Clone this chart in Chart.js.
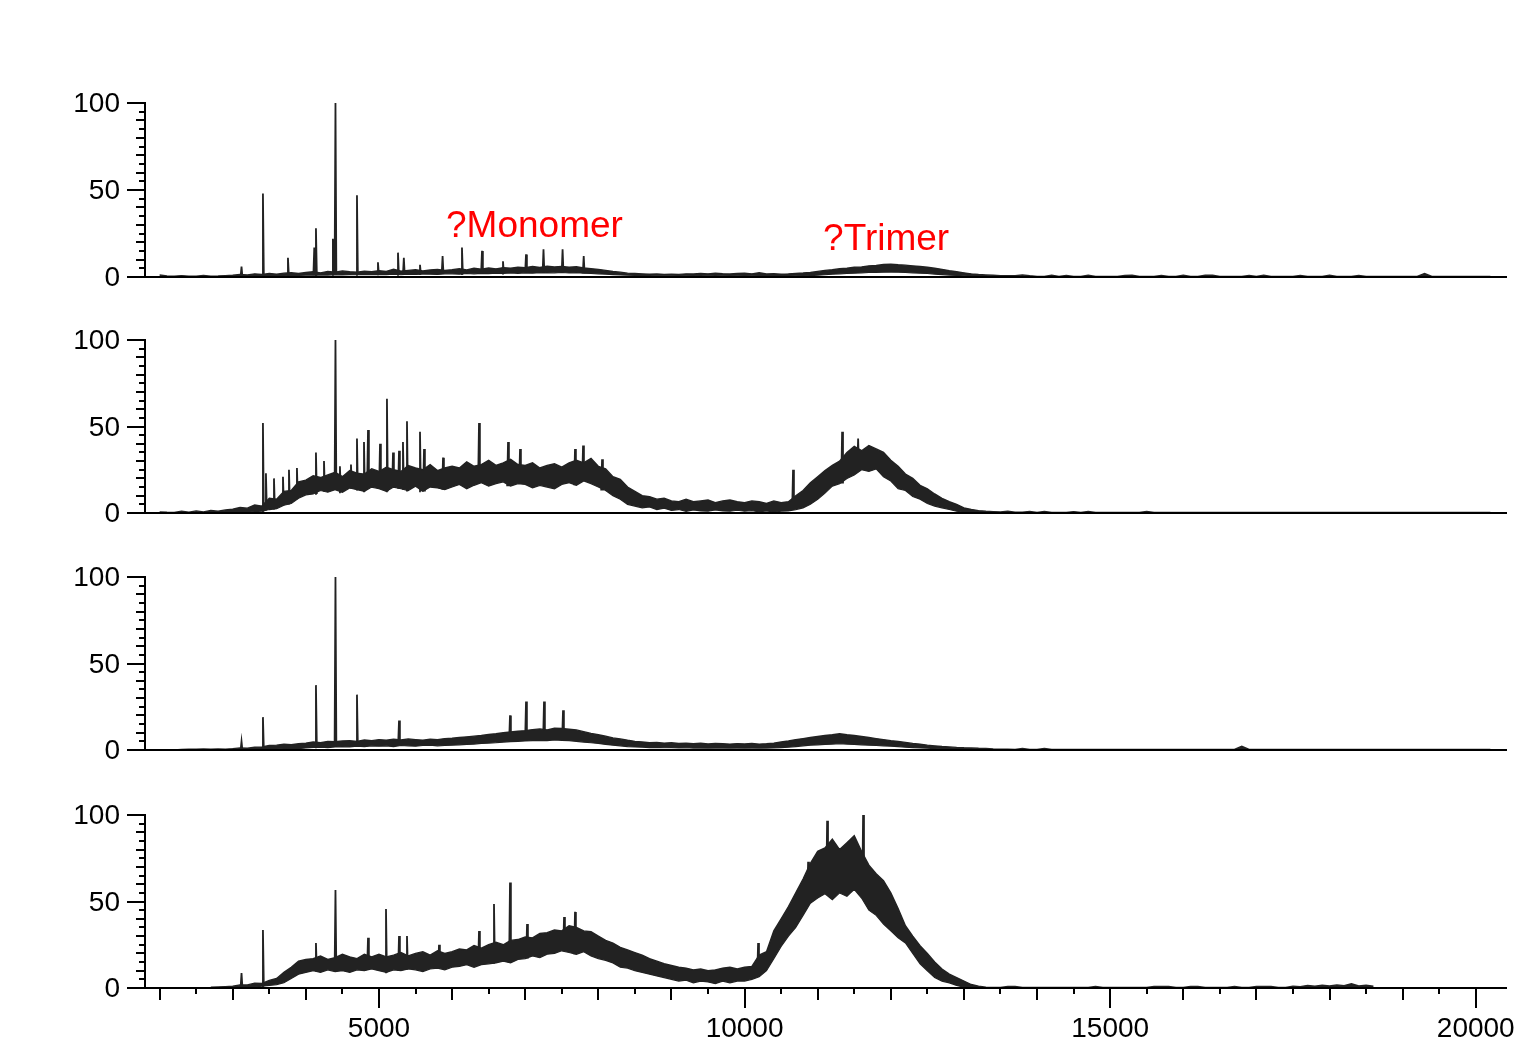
<!DOCTYPE html>
<html>
<head>
<meta charset="utf-8">
<script src="https://cdn.jsdelivr.net/npm/chart.js@4.4.1/dist/chart.umd.min.js"></script>
<style>
  html, body { margin: 0; padding: 0; background: #fff; }
  #wrap { width: 1520px; height: 1043px; }
</style>
</head>
<body>
<div id="wrap"><canvas id="spectra" width="1520" height="1043"></canvas></div>
<script>
// m/z sampling of the envelopes (Da)
const mzGrid = [
  2000, 2100, 2200, 2300, 2400, 2500, 2600, 2700, 2800, 2900,
  3000, 3100, 3200, 3300, 3400, 3500, 3600, 3700, 3800, 3900,
  4000, 4100, 4200, 4300, 4400, 4500, 4600, 4700, 4800, 4900,
  5000, 5100, 5200, 5300, 5400, 5500, 5600, 5700, 5800, 5900,
  6000, 6100, 6200, 6300, 6400, 6500, 6600, 6700, 6800, 6900,
  7000, 7100, 7200, 7300, 7400, 7500, 7600, 7700, 7800, 7900,
  8000, 8100, 8200, 8300, 8400, 8500, 8600, 8700, 8800, 8900,
  9000, 9100, 9200, 9300, 9400, 9500, 9600, 9700, 9800, 9900,
  10000, 10100, 10200, 10300, 10400, 10500, 10600, 10700, 10800, 10900,
  11000, 11100, 11200, 11300, 11400, 11500, 11600, 11700, 11800, 11900,
  12000, 12100, 12200, 12300, 12400, 12500, 12600, 12700, 12800, 12900,
  13000, 13100, 13200, 13300, 13400, 13500, 13600, 13700, 13800, 13900,
  14000, 14100, 14200, 14300, 14400, 14500, 14600, 14700, 14800, 14900,
  15000, 15100, 15200, 15300, 15400, 15500, 15600, 15700, 15800, 15900,
  16000, 16100, 16200, 16300, 16400, 16500, 16600, 16700, 16800, 16900,
  17000, 17100, 17200, 17300, 17400, 17500, 17600, 17700, 17800, 17900,
  18000, 18100, 18200, 18300, 18400, 18500, 18600, 18700, 18800, 18900,
  19000, 19100, 19200, 19300, 19400, 19500, 19600, 19700, 19800, 19900,
  20000, 20100, 20200
];

// panel 1 (top): noise band, upper and lower edge
const p1Upper = [
  1.2, 0.6, 0.4, 0.8, 0.5, 0.4, 0.9, 0.5, 0.6, 0.8,
  1.0, 1.5, 1.2, 1.8, 1.4, 2.0, 1.6, 2.2, 2.4, 2.0,
  2.6, 3.0, 2.4, 3.2, 2.8, 3.5, 3.0, 2.7, 3.4, 3.1,
  3.6, 3.2, 4.5, 3.4, 3.8, 4.2, 3.5, 4.0, 4.4, 3.7,
  4.2, 4.8, 4.0, 5.0, 4.5, 5.2, 4.7, 5.4, 5.0, 5.6,
  5.4, 6.0, 5.5, 6.2, 5.8, 6.0, 5.6, 5.9, 5.2, 4.8,
  4.4, 3.8, 3.2, 2.8, 2.2, 2.0, 1.8, 1.6, 1.7, 1.5,
  1.6, 1.5, 1.8, 1.7, 2.0, 1.8, 2.2, 1.9, 1.7, 2.0,
  2.2, 1.8, 2.4, 1.7, 1.9, 1.6, 1.8, 2.1, 2.3, 2.6,
  3.2, 3.8, 4.2, 4.8, 5.0, 5.6, 5.8, 6.4, 6.6, 7.2,
  7.4, 7.0, 6.8, 6.4, 6.0, 5.6, 5.0, 4.4, 3.6, 3.0,
  2.4, 1.8, 1.4, 1.2, 1.0, 0.8, 0.8, 0.7, 1.2, 0.7,
  0.3, 0.3, 1.0, 0.3, 0.9, 0.3, 0.3, 1.0, 0.3, 0.3,
  0.3, 0.3, 0.9, 1.0, 0.3, 0.3, 0.3, 0.9, 0.3, 0.3,
  1.0, 0.3, 0.3, 1.0, 1.0, 0.3, 0.3, 0.3, 0.3, 0.9,
  0.3, 1.0, 0.3, 0.3, 0.3, 0.3, 0.9, 0.3, 0.3, 0.3,
  1.0, 0.3, 0.3, 0.3, 0.9, 0.3, 0.3, 0.3, 0.3, 0.3,
  0.3, 0.3, 0.3, 2.0, 0.3, 0.3, 0.3, 0.3, 0.3, 0.3,
  0.3, 0.3, 0.3
];
const p1Lower = [
  0, 0, 0, 0, 0, 0, 0, 0, 0, 0,
  0.2, 0.2, 0.3, 0.3, 0.4, 0.5, 0.6, 0.6, 0.8, 0.9,
  1.0, 1.0, 1.2, 1.1, 1.3, 1.2, 1.4, 1.3, 1.5, 1.4,
  1.5, 1.4, 1.6, 1.3, 1.6, 1.5, 1.7, 1.6, 1.5, 1.8,
  1.8, 1.6, 2.0, 1.8, 2.1, 1.9, 2.2, 2.0, 2.3, 2.1,
  2.4, 2.2, 2.5, 2.3, 2.4, 2.6, 2.3, 2.5, 2.2, 2.0,
  1.8, 1.6, 1.4, 1.2, 1.0, 0.9, 0.8, 0.8, 0.7, 0.7,
  0.7, 0.6, 0.7, 0.6, 0.8, 0.7, 0.8, 0.7, 0.6, 0.7,
  0.6, 0.7, 0.6, 0.5, 0.6, 0.5, 0.6, 0.7, 0.6, 0.8,
  1.0, 1.3, 1.6, 1.8, 2.0, 2.2, 2.4, 2.6, 2.7, 2.8,
  2.9, 2.8, 2.6, 2.4, 2.2, 2.0, 1.7, 1.4, 1.1, 0.9,
  0.7, 0.5, 0.4, 0.3, 0.3, 0.2, 0.2, 0.2, 0.2, 0.2,
  0, 0, 0, 0, 0, 0, 0, 0, 0, 0,
  0, 0, 0, 0, 0, 0, 0, 0, 0, 0,
  0, 0, 0, 0, 0, 0, 0, 0, 0, 0,
  0, 0, 0, 0, 0, 0, 0, 0, 0, 0,
  0, 0, 0, 0, 0, 0, 0, 0, 0, 0,
  0, 0, 0, 0, 0, 0, 0, 0, 0, 0,
  0, 0, 0
];
const p1SpikeMz  = [3120, 3413, 3755, 4115, 4138, 4370, 4405, 4699, 4986, 5260, 5340, 5561, 5870, 6135, 6409, 6696, 7011, 7250, 7511, 7800];
const p1SpikeTop = [6, 48, 11, 17, 28, 22, 100, 47, 8.5, 14, 11, 7, 12, 17, 15, 9, 13, 16, 16, 12];

// panel 2
const p2Upper = [
  0.6, 0.4, 0.3, 1.0, 0.5, 1.2, 0.6, 1.4, 1.0, 1.8,
  2.2, 3.2, 2.8, 4.6, 4.0, 8.5, 8.0, 12.5, 13.0, 18.0,
  19.0, 21.5, 20.5, 22.0, 23.5, 21.0, 24.5, 23.0, 22.5, 25.5,
  24.0, 26.5, 25.0, 24.0, 27.5, 26.0, 25.0, 28.0, 24.5, 26.0,
  27.0, 26.0, 29.5, 27.0, 28.0, 30.5, 27.5, 29.0, 31.0, 28.0,
  27.5, 29.0, 26.0, 27.5, 28.5, 26.5, 29.0, 30.5, 29.0, 31.5,
  27.0, 25.5, 21.0, 19.5, 15.0, 12.5, 10.0, 9.5, 8.0, 8.5,
  7.0, 6.5, 8.0, 6.5, 7.0, 7.5, 6.0, 7.0, 7.5, 6.5,
  6.0, 7.0, 6.5, 5.5, 7.0, 6.0, 6.5, 10.0, 13.0, 17.5,
  21.0, 24.5, 27.5, 30.0, 35.0, 38.5, 36.0, 39.0, 37.0, 35.0,
  30.5, 27.0, 22.5, 20.0, 16.0, 14.0, 11.0, 8.5, 6.5, 5.0,
  3.0, 2.0, 1.4, 1.0, 0.8, 0.6, 1.0, 0.5, 0.4, 0.9,
  0.3, 0.9, 0.3, 0.3, 0.3, 0.8, 0.3, 0.9, 0.3, 0.3,
  0.3, 0.3, 0.3, 0.3, 0.3, 0.9, 0.3, 0.3, 0.3, 0.3,
  0.3, 0.3, 0.3, 0.3, 0.3, 0.3, 0.3, 0.3, 0.3, 0.3,
  0.3, 0.3, 0.3, 0.3, 0.3, 0.3, 0.3, 0.3, 0.3, 0.3,
  0.3, 0.3, 0.3, 0.3, 0.3, 0.3, 0.3, 0.3, 0.3, 0.3,
  0.3, 0.3, 0.3, 0.3, 0.3, 0.3, 0.3, 0.3, 0.3, 0.3,
  0.3, 0.3, 0.3
];
const p2Lower = [
  0, 0, 0, 0, 0, 0, 0, 0, 0, 0.3,
  0.4, 0.6, 0.5, 0.8, 1.0, 2.0, 2.5, 4.5, 5.5, 8.5,
  10.5, 11.0, 13.0, 12.0, 13.5, 12.0, 14.5, 13.5, 12.5, 15.0,
  14.0, 12.5, 15.0, 14.0, 13.0, 15.5, 12.5, 15.0, 14.5, 13.5,
  15.0, 16.5, 14.0, 16.0, 17.5, 15.5, 17.0, 18.0, 15.5, 17.0,
  16.5, 14.5, 16.0, 15.0, 14.0, 16.5, 17.5, 16.0, 18.5, 17.0,
  15.0, 13.0, 10.0, 8.0, 5.0, 4.0, 3.0, 3.5, 2.0, 2.8,
  1.5, 2.0, 1.0, 1.8, 1.2, 1.0, 1.8, 1.2, 1.0, 1.6,
  1.0, 1.4, 0.6, 1.2, 0.5, 1.0, 1.2, 2.0, 3.0, 5.0,
  8.0, 11.5, 15.5, 17.0, 20.0, 22.0, 25.0, 24.0, 25.5, 21.0,
  18.5, 14.0, 13.0, 9.5, 8.0, 5.5, 4.0, 3.0, 2.0, 1.0,
  0.5, 0.3, 0.2, 0.2, 0, 0, 0, 0, 0, 0,
  0, 0, 0, 0, 0, 0, 0, 0, 0, 0,
  0, 0, 0, 0, 0, 0, 0, 0, 0, 0,
  0, 0, 0, 0, 0, 0, 0, 0, 0, 0,
  0, 0, 0, 0, 0, 0, 0, 0, 0, 0,
  0, 0, 0, 0, 0, 0, 0, 0, 0, 0,
  0, 0, 0, 0, 0, 0, 0, 0, 0, 0,
  0, 0, 0
];
const p2SpikeMz  = [3413, 3454, 3564, 3687, 3769, 3878, 4138, 4248, 4405, 4466, 4617, 4699, 4795, 4850, 5014, 5109, 5192, 5274, 5328, 5383, 5561, 5616, 5876, 6368, 6765, 6929, 7681, 7791, 8051, 10663, 11334, 11553];
const p2SpikeTop = [52, 23, 20, 21, 25, 26, 35, 30, 100, 27, 28, 43, 41, 48, 40, 66, 35, 36, 41, 53, 47, 37, 32, 52, 41, 37, 37, 39, 31, 25, 47, 43];

// panel 3
const p3Upper = [
  0, 0, 0, 0.3, 0.5, 0.4, 0.6, 0.5, 0.6, 0.5,
  0.8, 1.2, 1.0, 1.6, 1.8, 2.6, 2.8, 3.4, 3.0, 3.6,
  4.0, 4.6, 4.2, 5.0, 4.8, 5.2, 5.4, 5.0, 5.8, 5.4,
  6.0, 5.6, 6.2, 5.8, 6.4, 6.0, 5.6, 6.2, 6.0, 6.6,
  6.8, 7.2, 7.6, 8.0, 8.4, 9.0, 9.4, 10.0, 10.4, 10.8,
  11.2, 11.8, 12.2, 11.6, 12.6, 12.4, 12.0, 11.6, 10.6, 9.6,
  8.8, 8.0, 7.0, 6.4, 5.6, 5.0, 4.6, 4.2, 4.4, 4.0,
  4.2, 3.8, 4.0, 3.6, 4.0, 3.5, 3.8, 3.6, 3.4, 3.7,
  3.5, 3.8, 3.4, 3.6, 4.0, 4.6, 5.2, 6.0, 6.6, 7.2,
  7.8, 8.4, 8.8, 9.4, 8.8, 8.4, 7.8, 7.2, 6.6, 6.0,
  5.4, 5.0, 4.4, 3.8, 3.4, 2.8, 2.4, 2.0, 1.8, 1.5,
  1.3, 1.2, 1.0, 0.9, 0.6, 0.5, 0.4, 0.3, 0.9, 0.3,
  0.3, 0.9, 0.3, 0.3, 0.3, 0.3, 0.3, 0.3, 0.3, 0.3,
  0.3, 0.3, 0.3, 0.3, 0.3, 0.3, 0.3, 0.3, 0.3, 0.3,
  0.3, 0.3, 0.3, 0.3, 0.3, 0.3, 0.3, 0.3, 2.2, 0.3,
  0.3, 0.3, 0.3, 0.3, 0.3, 0.3, 0.3, 0.3, 0.3, 0.3,
  0.3, 0.3, 0.3, 0.3, 0.3, 0.3, 0.3, 0.3, 0.3, 0.3,
  0.3, 0.3, 0.3, 0.3, 0.3, 0.3, 0.3, 0.3, 0.3, 0.3,
  0.3, 0.3, 0.3
];
const p3Lower = [
  0, 0, 0, 0, 0, 0, 0, 0, 0, 0,
  0, 0, 0.2, 0.3, 0.3, 0.5, 0.6, 0.8, 1.0, 0.8,
  1.2, 1.5, 1.6, 1.4, 1.8, 2.0, 1.8, 2.2, 2.0, 2.4,
  2.2, 2.4, 2.0, 2.6, 2.4, 2.2, 2.6, 2.8, 2.4, 2.6,
  2.8, 3.0, 3.2, 3.4, 3.8, 4.0, 4.2, 4.6, 4.8, 5.0,
  5.2, 5.4, 5.6, 5.4, 5.8, 5.6, 5.4, 5.0, 4.6, 4.2,
  3.8, 3.2, 2.8, 2.4, 2.0, 1.8, 1.6, 1.4, 1.5, 1.3,
  1.4, 1.2, 1.3, 1.1, 1.2, 1.0, 1.2, 1.1, 1.0, 1.1,
  1.0, 1.2, 1.0, 1.1, 1.2, 1.4, 1.6, 2.0, 2.4, 2.8,
  3.0, 3.2, 3.4, 3.6, 3.4, 3.2, 3.0, 2.8, 2.6, 2.4,
  2.2, 2.0, 1.6, 1.4, 1.2, 1.0, 0.8, 0.6, 0.5, 0.4,
  0.3, 0.2, 0.2, 0, 0, 0, 0, 0, 0, 0,
  0, 0, 0, 0, 0, 0, 0, 0, 0, 0,
  0, 0, 0, 0, 0, 0, 0, 0, 0, 0,
  0, 0, 0, 0, 0, 0, 0, 0, 0, 0,
  0, 0, 0, 0, 0, 0, 0, 0, 0, 0,
  0, 0, 0, 0, 0, 0, 0, 0, 0, 0,
  0, 0, 0, 0, 0, 0, 0, 0, 0, 0,
  0, 0, 0
];
const p3SpikeMz  = [3120, 3413, 4138, 4405, 4699, 5274, 6792, 7011, 7257, 7517];
const p3SpikeTop = [5, 19, 37.5, 100, 32, 17, 20, 28, 28, 23];

// panel 4 (bottom)
const p4Upper = [
  null, null, null, null, null, null, null, 0.4, 0.6, 0.8,
  1.0, 1.8, 1.8, 2.8, 2.6, 4.4, 5.5, 9.0, 12.0, 15.5,
  16.5, 17.0, 18.5, 16.5, 17.5, 19.5, 18.0, 17.0, 19.5, 18.0,
  19.5, 18.0, 19.0, 20.5, 18.5, 20.0, 21.0, 19.0, 21.5, 20.0,
  21.0, 22.5, 22.0, 24.5, 23.0, 25.0, 26.5, 25.0, 27.5, 28.0,
  29.5, 29.0, 31.5, 32.0, 33.5, 33.0, 36.0, 35.0, 33.0, 32.5,
  30.0, 27.5, 26.0, 23.5, 22.0, 20.5, 19.0, 17.0, 15.5, 14.0,
  13.0, 12.0, 11.5, 10.5, 11.0, 10.0, 10.5, 11.5, 12.0, 11.0,
  12.0, 12.5, 19.0, 21.0, 33.0, 40.0, 47.0, 55.0, 63.0, 72.0,
  79.0, 81.0, 86.0, 80.0, 84.0, 88.0, 79.0, 71.0, 66.0, 62.0,
  55.0, 46.0, 36.0, 30.0, 24.5, 20.0, 15.0, 11.0, 8.0, 6.0,
  4.0, 2.0, 1.0, 0.5, 0.3, 0.3, 0.9, 0.9, 0.3, 0.3,
  0.3, 0.3, 0.3, 0.3, 0.3, 0.3, 0.3, 0.3, 0.9, 0.3,
  0.3, 0.3, 0.3, 0.3, 0.3, 0.3, 0.9, 0.9, 0.9, 0.3,
  0.3, 0.9, 0.9, 0.3, 0.3, 0.3, 0.3, 0.9, 0.3, 0.3,
  0.9, 0.9, 0.9, 0.3, 0.3, 1.0, 0.8, 1.4, 1.0, 1.6,
  1.2, 1.8, 1.4, 2.4, 1.2, 1.6, 1.0, null, null, null,
  null, null, null, null, null, null, null, null, null, null,
  null, null, null
];
const p4Lower = [
  null, null, null, null, null, null, null, 0, 0, 0,
  0, 0.2, 0.5, 0.6, 1.0, 1.5, 2.0, 3.0, 5.5, 8.0,
  9.0, 10.0, 9.0, 10.5, 9.5, 10.0, 9.0, 10.5, 10.0, 11.0,
  10.0, 9.0, 10.5, 10.0, 11.0, 10.5, 9.5, 11.0, 11.5, 10.5,
  12.0, 12.5, 13.5, 12.0, 13.5, 14.0, 14.5, 15.5, 14.5, 16.5,
  17.0, 18.5, 17.5, 19.5, 20.0, 21.5, 20.5, 19.5, 21.0, 18.5,
  17.0, 16.0, 14.5, 12.0, 11.5, 10.0, 9.0, 8.0, 7.0, 6.0,
  5.0, 4.0, 4.5, 3.0, 4.0, 3.5, 2.5, 4.0, 3.0, 4.0,
  4.0, 5.0, 6.5, 10.0, 17.0, 24.0, 30.0, 35.0, 42.0, 49.0,
  52.0, 54.5, 51.0, 55.0, 53.0, 57.0, 52.0, 45.0, 42.0, 37.0,
  33.0, 29.0, 26.0, 20.0, 14.0, 10.0, 6.0, 4.0, 3.0, 1.5,
  0.5, 0, 0, 0, 0, 0, 0, 0, 0, 0,
  0, 0, 0, 0, 0, 0, 0, 0, 0, 0,
  0, 0, 0, 0, 0, 0, 0, 0, 0, 0,
  0, 0, 0, 0, 0, 0, 0, 0, 0, 0,
  0, 0, 0, 0, 0, 0, 0, 0, 0, 0,
  0, 0, 0, 0, 0, 0, 0, null, null, null,
  null, null, null, null, null, null, null, null, null, null,
  null, null, null
];
const p4SpikeMz  = [3120, 3413, 4138, 4405, 4850, 5096, 5274, 5383, 5821, 6368, 6573, 6792, 7025, 7531, 7681, 10185, 10869, 11129, 11621];
const p4SpikeTop = [8.7, 33.5, 26, 56.6, 29, 45.6, 30, 30, 25, 33, 48.5, 61, 37, 41, 44, 26, 73, 96.7, 100];

// x-axis tick labels and the two annotations on panel 1
const xTickLabels = [5000, 10000, 15000, 20000];
const noteText = ["?Monomer", "?Trimer"];
const noteMz = [5917, 11074];
const noteLevel = [23, 15.5];

// layout: pixel rows of each panel's 0 and 100 lines
const panelZero = [277, 513, 750, 988];
const panelHundred = [103, 340, 577, 815];
const AREA_TOP = 103, AREA_BOTTOM = 988, AREA_LEFT = 145, AREA_RIGHT = 1505;
const TRACE = "#222222";
const FONT = '"Liberation Sans", Arial, sans-serif';
const SPIKE_HALF = 12; // half-width of a spike foot, Da

function pairUp(values) {
  return mzGrid.map((mz, i) => ({ x: mz, y: values[i] }));
}

function spikePoints(spikeMz, spikeTop, lower) {
  const pts = [];
  spikeMz.forEach((mz, k) => {
    const idx = Math.round((mz - mzGrid[0]) / (mzGrid[1] - mzGrid[0]));
    const base = lower[idx] ?? 0;
    pts.push(
      { x: mz - SPIKE_HALF, y: base },
      { x: mz, y: spikeTop[k] },
      { x: mz + SPIKE_HALF, y: base },
      { x: mz + SPIKE_HALF, y: null }
    );
  });
  return pts;
}

function panelDatasets(axisId, upper, lower, spikeMz, spikeTop) {
  return [
    {
      data: pairUp(upper), yAxisID: axisId,
      borderColor: TRACE, borderWidth: 1.4, backgroundColor: TRACE,
      fill: "+1", pointRadius: 0, tension: 0
    },
    {
      data: pairUp(lower), yAxisID: axisId,
      borderColor: TRACE, borderWidth: 1.2, fill: false, pointRadius: 0, tension: 0
    },
    {
      data: spikePoints(spikeMz, spikeTop, lower), yAxisID: axisId,
      borderColor: TRACE, borderWidth: 1.8, fill: false, pointRadius: 0,
      tension: 0, spanGaps: false
    }
  ];
}

function panelScale(k) {
  const unit = (panelZero[k] - panelHundred[k]) / 100;
  return {
    type: "linear", display: false,
    min: -(AREA_BOTTOM - panelZero[k]) / unit,
    max: (panelZero[k] - AREA_TOP) / unit
  };
}

const axesPlugin = {
  id: "spectraAxes",
  afterDatasetsDraw(chart) {
    const ctx = chart.ctx;
    const xs = chart.scales.x;
    ctx.save();
    ctx.strokeStyle = "#000";
    ctx.fillStyle = "#000";
    ctx.lineWidth = 2;
    ctx.lineCap = "butt";
    ctx.font = "28px " + FONT;

    ["y1", "y2", "y3", "y4"].forEach(id => {
      const ys = chart.scales[id];
      const y0 = ys.getPixelForValue(0);
      const y100 = ys.getPixelForValue(100);
      ctx.beginPath();
      ctx.moveTo(xs.left, y100 - 1);
      ctx.lineTo(xs.left, y0 + 1);
      ctx.moveTo(xs.left, y0);
      ctx.lineTo(xs.right + 2, y0);
      for (let v = 0; v <= 100; v += 5) {
        const len = v % 50 === 0 ? 18 : (v % 10 === 0 ? 9 : 6);
        const py = Math.round(ys.getPixelForValue(v));
        ctx.moveTo(xs.left - len, py);
        ctx.lineTo(xs.left, py);
      }
      ctx.stroke();
      ctx.textAlign = "right";
      ctx.textBaseline = "alphabetic";
      [0, 50, 100].forEach(v => {
        ctx.fillText(String(v), 120, ys.getPixelForValue(v) + 9);
      });
    });

    // bottom m/z axis ticks
    const yb = chart.scales.y4.getPixelForValue(0);
    ctx.beginPath();
    for (let mz = 2000; mz <= 20000; mz += 500) {
      const len = mz % 5000 === 0 ? 20 : (mz % 1000 === 0 ? 12 : 6);
      const px = Math.round(xs.getPixelForValue(mz));
      ctx.moveTo(px, yb);
      ctx.lineTo(px, yb + len);
    }
    ctx.stroke();
    ctx.textAlign = "center";
    xTickLabels.forEach(mz => {
      ctx.fillText(String(mz), xs.getPixelForValue(mz), yb + 49);
    });

    // annotations
    ctx.fillStyle = "#ff0000";
    ctx.font = "37px " + FONT;
    ctx.textAlign = "left";
    noteText.forEach((t, k) => {
      ctx.fillText(t, xs.getPixelForValue(noteMz[k]), chart.scales.y1.getPixelForValue(noteLevel[k]));
    });
    ctx.restore();
  }
};

new Chart(document.getElementById("spectra"), {
  type: "line",
  data: {
    datasets: [
      ...panelDatasets("y1", p1Upper, p1Lower, p1SpikeMz, p1SpikeTop),
      ...panelDatasets("y2", p2Upper, p2Lower, p2SpikeMz, p2SpikeTop),
      ...panelDatasets("y3", p3Upper, p3Lower, p3SpikeMz, p3SpikeTop),
      ...panelDatasets("y4", p4Upper, p4Lower, p4SpikeMz, p4SpikeTop)
    ]
  },
  options: {
    responsive: false,
    animation: false,
    devicePixelRatio: 1,
    layout: {
      padding: { left: AREA_LEFT, right: 1520 - AREA_RIGHT, top: AREA_TOP, bottom: 1043 - AREA_BOTTOM }
    },
    plugins: { legend: { display: false }, tooltip: { enabled: false } },
    scales: {
      x: { type: "linear", display: false, min: 1800, max: 20400 },
      y1: panelScale(0),
      y2: panelScale(1),
      y3: panelScale(2),
      y4: panelScale(3)
    }
  },
  plugins: [axesPlugin]
});
</script>
</body>
</html>
